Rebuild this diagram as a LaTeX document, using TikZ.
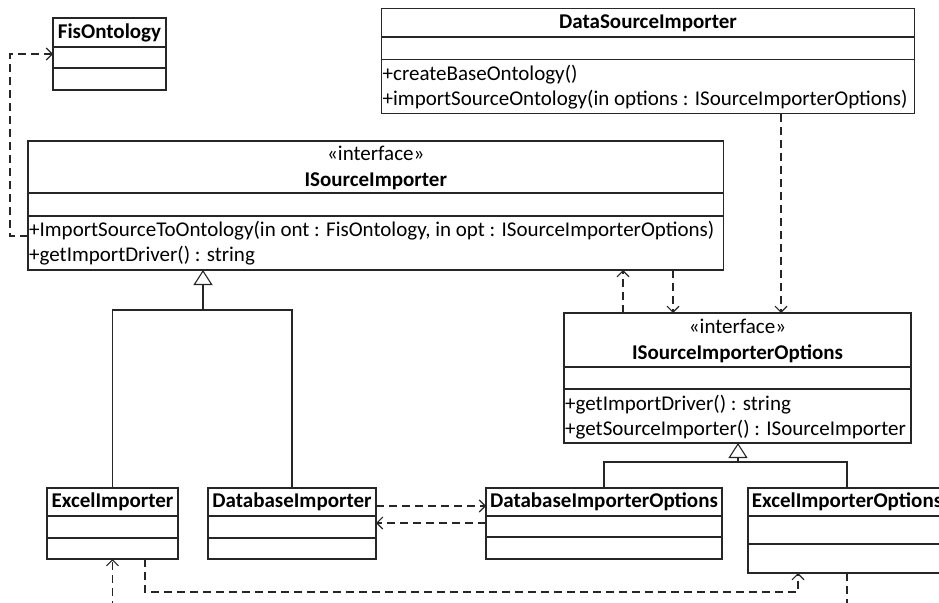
\documentclass[tikz,border=0pt]{standalone}
\usepackage{fontspec}
\setmainfont{Carlito}
\usetikzlibrary{arrows.meta}

% class box: name, x, y, width, height, first divider, second divider
\newcommand\classbox[7]{%
  \node[cls, minimum width=#4pt, minimum height=#5pt, anchor=north west] (#1) at (#2,#3) {};
  \draw[sepline] ([yshift=-#6pt]#1.north west) -- ([yshift=-#6pt]#1.north east);
  \draw[sepline] ([yshift=-#7pt]#1.north west) -- ([yshift=-#7pt]#1.north east);
}

\begin{document}
\begin{tikzpicture}[x=1pt,y=-1pt,
  font=\fontsize{21}{25}\selectfont,
  cls/.style={draw=black!85, line width=1.2pt, inner sep=0pt, outer sep=0pt},
  sepline/.style={draw=black!85, line width=1.2pt},
  ttl/.style={font=\fontsize{21}{25}\selectfont\bfseries, anchor=base, inner sep=0pt},
  ster/.style={anchor=base, inner sep=0pt},
  mem/.style={anchor=base west, inner sep=0pt},
  dep/.style={draw=black!85, line width=1.1pt, dash pattern=on 8pt off 5pt,
              -{Straight Barb[length=6pt,width=12pt]}},
  inh/.style={draw=black!85, line width=1.1pt},
  inhtip/.style={inh, -{Triangle[open,length=15pt,width=19pt]}},
]
\useasboundingbox (0,0) rectangle (939,602);
\clip (0,0) rectangle (939,602);

% classes
\classbox{fis}{53}{18}{113}{72}{29}{50}
\classbox{dsi}{381.5}{8.5}{533}{105}{28.5}{51}
\classbox{si}{28}{141}{695.5}{129}{52}{75}
\classbox{siopt}{564}{313}{347}{130}{54}{76}
\classbox{excel}{47}{488}{131}{71}{28}{50}
\classbox{dbi}{208}{488}{168}{71}{28}{50}
\classbox{dbio}{486}{488}{236}{71}{28}{49}
\classbox{eio}{748}{488}{198}{85}{28}{56}

% titles, stereotypes and operations
\node[ttl] (fisT) at (109.5,39) {FisOntology};

\node[ttl] (dsiT) at (648,28.5) {DataSourceImporter};
\node[mem] (dsiM1) at (382.5,80.5) {+createBaseOntology()};
\node[mem] (dsiM2) at (382.5,105.5) {+importSourceOntology(in options : ISourceImporterOptions)};

\node[ster] (siS) at (375.8,160) {«interface»};
\node[ttl] (siT) at (375.8,186) {ISourceImporter};
\node[mem] (siM1) at (29,236.5) {+ImportSourceToOntology(in ont : FisOntology, in opt : ISourceImporterOptions)};
\node[mem] (siM2) at (29,261.5) {+getImportDriver() : string};

\node[ster] (sioS) at (737.5,333.5) {«interface»};
\node[ttl] (sioT) at (737.5,359.5) {ISourceImporterOptions};
\node[mem] (sioM1) at (565,410) {+getImportDriver() : string};
\node[mem] (sioM2) at (565,435) {+getSourceImporter() : ISourceImporter};

\node[ttl] (excelT) at (112.5,507.5) {ExcelImporter};
\node[ttl] (dbiT) at (292,507.5) {DatabaseImporter};
\node[ttl] (dbioT) at (604,507.5) {DatabaseImporterOptions};
\node[ttl] (eioT) at (847,507.5) {ExcelImporterOptions};

% generalisation
\coordinate (jA) at (203,310);
\draw[inh] (dbi.north) |- (jA);
\draw[inhtip] (excel.north) |- (jA) -- (si.south -| jA);
\coordinate (jB) at (738,462);
\draw[inh] (eio.north) |- (jB);
\draw[inhtip] (dbio.north) |- (jB) -- (siopt.south -| jB);

% dependencies
\coordinate (k1) at (10,236);
\draw[dep] (si.west |- k1) -- (k1) |- (fis.west);
\coordinate (k2) at (781,0);
\draw[dep] (dsi.south -| k2) -- (siopt.north -| k2);
\coordinate (k3) at (623,0);
\draw[dep] (siopt.north -| k3) -- (si.south -| k3);
\coordinate (k4) at (673,0);
\draw[dep] (si.south -| k4) -- (siopt.north -| k4);
\coordinate (k5) at (0,506);
\draw[dep] (dbi.east |- k5) -- (dbio.west |- k5);
\coordinate (k6) at (0,523);
\draw[dep] (dbio.west |- k6) -- (dbi.east |- k6);
\coordinate (k7) at (145,592);
\coordinate (k8) at (798,592);
\draw[dep] (excel.south -| k7) -- (k7) -- (k8) -- (eio.south -| k8);
\coordinate (k9) at (847,620);
\coordinate (k10) at (112.5,620);
\draw[dep] (eio.south) -- (k9) -- (k10) -- (excel.south -| k10);
\end{tikzpicture}
\end{document}
